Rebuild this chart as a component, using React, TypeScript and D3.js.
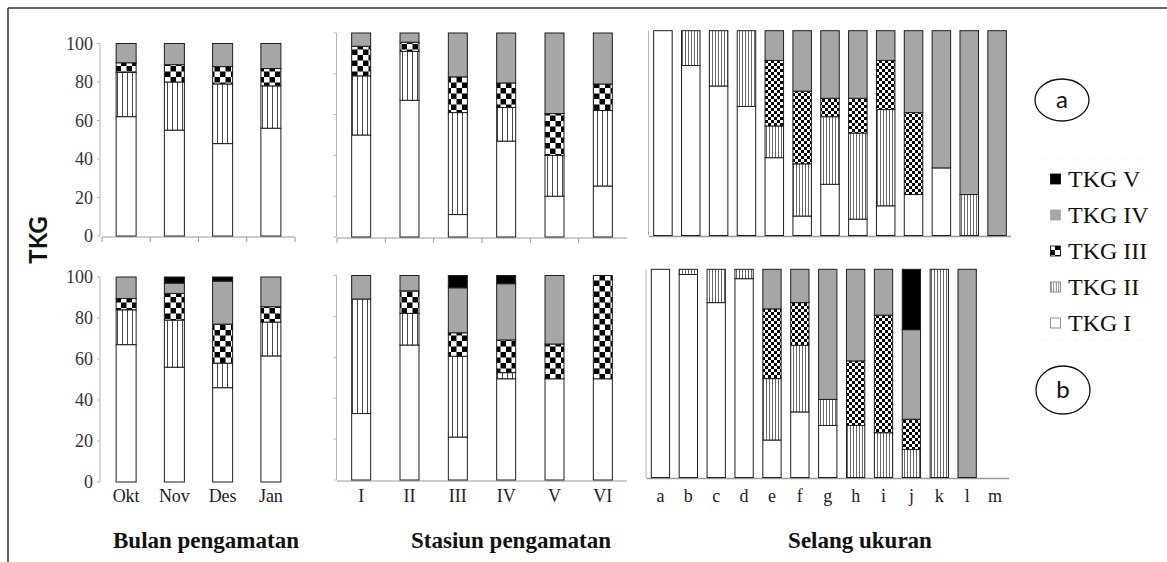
import React from "react";
import * as d3 from "d3";

// ---------- data ----------
const bulan = ["Okt", "Nov", "Des", "Jan"];
const stasiun = ["I", "II", "III", "IV", "V", "VI"];
const selang = ["a", "b", "c", "d", "e", "f", "g", "h", "i", "j", "k", "l", "m"];
const tkgKeys = ["I", "II", "III", "IV", "V"];
const legendLabels = ["TKG V", "TKG IV", "TKG III", "TKG II", "TKG I"];
const yTicks = [0, 20, 40, 60, 80, 100];
const yTickLabels = ["0", "20", "40", "60", "80", "100"];
const axisTitles = ["Bulan pengamatan", "Stasiun pengamatan", "Selang ukuran"];
const yTitle = "TKG";
const panelTags = ["a", "b"];

// each row: percentages of TKG I, II, III, IV, V for one category
const bulanA = [
  [62, 23, 5, 10, 0],
  [55, 25, 9, 11, 0],
  [48, 31, 9, 12, 0],
  [56, 22, 9, 13, 0],
];
const stasiunA = [
  [50, 29, 14.5, 6.5, 0],
  [67, 24, 4.5, 4.5, 0],
  [11, 50, 17.5, 21.5, 0],
  [47, 16.5, 12, 24.5, 0],
  [20, 20, 20.5, 39.5, 0],
  [25, 37, 13, 25, 0],
];
const selangA = [
  [100, 0, 0, 0, 0],
  [83, 17, 0, 0, 0],
  [73, 27, 0, 0, 0],
  [63, 37, 0, 0, 0],
  [38, 15.5, 32, 14.5, 0],
  [9.5, 25.5, 35.5, 29.5, 0],
  [25, 33, 9, 33, 0],
  [8, 42, 17, 33, 0],
  [14.5, 47, 24, 14.5, 0],
  [20, 0, 40, 40, 0],
  [33, 0, 0, 67, 0],
  [0, 20, 0, 80, 0],
  [0, 0, 0, 100, 0],
];
const bulanB = [
  [67, 17, 5.5, 10.5, 0],
  [56, 23, 13, 5, 3],
  [46, 12, 19, 21, 2],
  [61.5, 16.5, 7.5, 14.5, 0],
];
const stasiunB = [
  [32.5, 56, 0, 11.5, 0],
  [66, 15.5, 11, 7.5, 0],
  [21, 39.5, 11.5, 22, 6],
  [49.5, 3, 16, 27.5, 4],
  [49.5, 0, 17, 33.5, 0],
  [49.5, 0, 50.5, 0, 0],
];
const selangB = [
  [100, 0, 0, 0, 0],
  [97.5, 2.5, 0, 0, 0],
  [84, 16, 0, 0, 0],
  [95.5, 4.5, 0, 0, 0],
  [18, 29.5, 33.5, 19, 0],
  [31.5, 32, 20.5, 16, 0],
  [25, 12.5, 0, 62.5, 0],
  [0, 25, 31, 44, 0],
  [0, 21.5, 56.5, 22, 0],
  [0, 13.5, 14.5, 43, 29],
  [0, 100, 0, 0, 0],
  [0, 0, 0, 100, 0],
  [0, 0, 0, 0, 0],
];

// ---------- layout ----------
const SERIF = "'Liberation Serif', 'Times New Roman', serif";
const SANS = "Lato, 'Open Sans', sans-serif";
const GRAY = "#a6a6a6";

type PanelCfg = {
  cats: string[];
  rows: number[][];
  x0: number;
  x1: number;
  yTop: number;
  yBot: number;
  barW: number;
  size: "L" | "S";
  kind: "left" | "mid" | "right";
  bottom: boolean;
};

const panels: PanelCfg[] = [
  { cats: bulan, rows: bulanA, x0: 102, x1: 295, yTop: 43.5, yBot: 236, barW: 20, size: "L", kind: "left", bottom: false },
  { cats: stasiun, rows: stasiunA, x0: 337, x1: 627, yTop: 33, yBot: 237, barW: 19, size: "L", kind: "mid", bottom: false },
  { cats: selang, rows: selangA, x0: 649, x1: 1011, yTop: 30.7, yBot: 235.5, barW: 18.5, size: "S", kind: "right", bottom: false },
  { cats: bulan, rows: bulanB, x0: 102, x1: 295, yTop: 277, yBot: 482, barW: 20, size: "L", kind: "left", bottom: true },
  { cats: stasiun, rows: stasiunB, x0: 337, x1: 627, yTop: 275.5, yBot: 480, barW: 19, size: "L", kind: "mid", bottom: true },
  { cats: selang, rows: selangB, x0: 646.5, x1: 1009, yTop: 269.3, yBot: 477.5, barW: 18.3, size: "S", kind: "right", bottom: true },
];

function fillFor(k: number, size: string) {
  if (k === 0) return "#ffffff";
  if (k === 1) return `url(#stripe${size})`;
  if (k === 2) return `url(#check${size})`;
  if (k === 3) return GRAY;
  return "#000000";
}

function Panel({ p }: { p: PanelCfg }) {
  const x = d3.scaleBand<string>().domain(p.cats).range([p.x0, p.x1]);
  const y = d3.scaleLinear().domain([0, 100]).range([p.yBot, p.yTop]);
  const table = p.rows.map((r, i) => {
    const o: any = { cat: p.cats[i] };
    tkgKeys.forEach((k, j) => (o[k] = r[j]));
    return o;
  });
  const series = d3.stack<any>().keys(tkgKeys)(table);
  const bw = x.bandwidth();
  const axisX = p.kind === "left" ? 100 : p.x0 - 0.5;

  return (
    <g>
      {/* y axis */}
      <line x1={axisX} x2={axisX} y1={y(100)} y2={y(0)} stroke="#b5b5b5" strokeWidth={1} />
      {p.kind !== "right" &&
        yTicks.map((t) => (
          <line key={t} x1={axisX - 3} x2={axisX} y1={y(t)} y2={y(t)} stroke="#b5b5b5" strokeWidth={1} />
        ))}
      {p.kind === "left" &&
        yTicks.map((t, i) => (
          <text key={"l" + t} x={93} y={y(t) + 6} textAnchor="end" fontFamily={SERIF} fontSize={18} fill="#333">
            {yTickLabels[i]}
          </text>
        ))}
      {/* x axis */}
      {!(p.kind === "left" && p.bottom) && (
        <line x1={p.x0} x2={p.x1} y1={p.yBot + 1} y2={p.yBot + 1} stroke="#9a9a9a" strokeWidth={p.kind === "right" ? 1.6 : 1.2} />
      )}
      {!p.bottom && p.kind !== "right" &&
        (p.kind === "left" ? [...p.cats, "_end"] : p.cats).map((c) => {
          const xx = c === "_end" ? p.x1 : (x(c) as number);
          return <line key={"t" + c} x1={xx} x2={xx} y1={p.yBot + 1} y2={p.yBot + 6} stroke="#9a9a9a" strokeWidth={1} />;
        })}
      {/* bars */}
      {series.map((s, k) =>
        s.map((d: any, i: number) => {
          const v = d[1] - d[0];
          if (v <= 0) return null;
          const cat = p.cats[i];
          return (
            <rect
              key={k + "-" + i}
              x={(x(cat) as number) + (bw - p.barW) / 2}
              y={y(d[1])}
              width={p.barW}
              height={y(d[0]) - y(d[1])}
              fill={fillFor(k, p.size)}
              stroke="#1e1e1e"
              strokeWidth={1}
            />
          );
        })
      )}
      {/* x labels */}
      {p.bottom &&
        p.cats.map((c) => (
          <text key={"x" + c} x={(x(c) as number) + bw / 2} y={502} textAnchor="middle" fontFamily={SERIF} fontSize={18} fill="#222">
            {c}
          </text>
        ))}
    </g>
  );
}

export default function App() {
  const legendY = d3.scalePoint<string>().domain(legendLabels).range([179, 323]);
  const legendFill = [4, 3, 2, 1, 0];
  const titleX = [206, 511, 860];
  return (
    <div style={{ position: "absolute", left: 0, top: 0 }}>
      <svg width={1167} height={562} style={{ display: "block", background: "#fff" }}>
        <defs>
          <pattern id="stripeL" width={5} height={10} patternUnits="userSpaceOnUse">
            <rect width={5} height={10} fill="#fff" />
            <line x1={2.5} x2={2.5} y1={0} y2={10} stroke="#333" strokeWidth={0.9} />
          </pattern>
          <pattern id="stripeS" width={3} height={10} patternUnits="userSpaceOnUse">
            <rect width={3} height={10} fill="#fff" />
            <line x1={1.5} x2={1.5} y1={0} y2={10} stroke="#444" strokeWidth={0.8} />
          </pattern>
          <pattern id="checkL" width={11} height={11} patternUnits="userSpaceOnUse">
            <rect width={11} height={11} fill="#fff" />
            <rect x={5.5} y={0} width={5.5} height={5.5} fill="#000" />
            <rect x={0} y={5.5} width={5.5} height={5.5} fill="#000" />
          </pattern>
          <pattern id="checkS" width={6} height={6} patternUnits="userSpaceOnUse">
            <rect width={6} height={6} fill="#fff" />
            <rect x={3} y={0} width={3} height={3} fill="#000" />
            <rect x={0} y={3} width={3} height={3} fill="#000" />
          </pattern>
          <pattern id="checkLeg" width={10} height={10} patternUnits="userSpaceOnUse">
            <rect width={10} height={10} fill="#fff" />
            <rect x={0} y={0} width={5} height={5} fill="#000" />
            <rect x={5} y={5} width={5} height={5} fill="#000" />
          </pattern>
          <pattern id="stripeLeg" width={2.5} height={10} patternUnits="userSpaceOnUse">
            <rect width={2.5} height={10} fill="#fff" />
            <line x1={1.25} x2={1.25} y1={0} y2={10} stroke="#555" strokeWidth={0.7} />
          </pattern>
        </defs>

        {/* frame */}
        <line x1={8} x2={1167} y1={8} y2={8} stroke="#333" strokeWidth={1.5} />
        <line x1={8} x2={8} y1={8} y2={562} stroke="#333" strokeWidth={1.5} />

        {panels.map((p, i) => (
          <Panel key={i} p={p} />
        ))}

        {/* y title */}
        <text
          transform="translate(47,240) rotate(-90)"
          textAnchor="middle"
          fontFamily={SANS}
          fontWeight={700}
          fontSize={24}
          fill="#111"
        >
          {yTitle}
        </text>

        {/* axis titles */}
        {axisTitles.map((t, i) => (
          <text key={t} x={titleX[i]} y={548} textAnchor="middle" fontFamily={SERIF} fontWeight={700} fontSize={23} fill="#111">
            {t}
          </text>
        ))}

        {/* legend */}
        <line x1={1042} x2={1150} y1={158} y2={158} stroke="#e4e4e4" strokeDasharray="2 14" />
        <line x1={1042} x2={1150} y1={340} y2={340} stroke="#e4e4e4" strokeDasharray="2 14" />
        {legendLabels.map((l, i) => {
          const cy = legendY(l) as number;
          const k = legendFill[i];
          const f = k === 2 ? "url(#checkLeg)" : k === 1 ? "url(#stripeLeg)" : fillFor(k, "L");
          return (
            <g key={l}>
              <rect
                x={1050.5}
                y={cy - 5}
                width={10}
                height={10}
                fill={f}
                stroke={k === 0 || k === 1 ? "#777" : k === 3 ? GRAY : "#000"}
                strokeWidth={0.8}
              />
              <text x={1068} y={cy + 8} fontFamily={SERIF} fontSize={24} fill="#111">
                {l}
              </text>
            </g>
          );
        })}

        {/* panel tags */}
        <ellipse cx={1062} cy={100} rx={27} ry={21} fill="none" stroke="#111" strokeWidth={1.3} />
        <text x={1062} y={108} textAnchor="middle" fontFamily={SANS} fontSize={24} fill="#111">
          {panelTags[0]}
        </text>
        <ellipse cx={1063} cy={390} rx={27} ry={24} fill="none" stroke="#111" strokeWidth={1.3} />
        <text x={1063} y={398} textAnchor="middle" fontFamily={SANS} fontSize={24} fill="#111">
          {panelTags[1]}
        </text>
      </svg>
    </div>
  );
}
